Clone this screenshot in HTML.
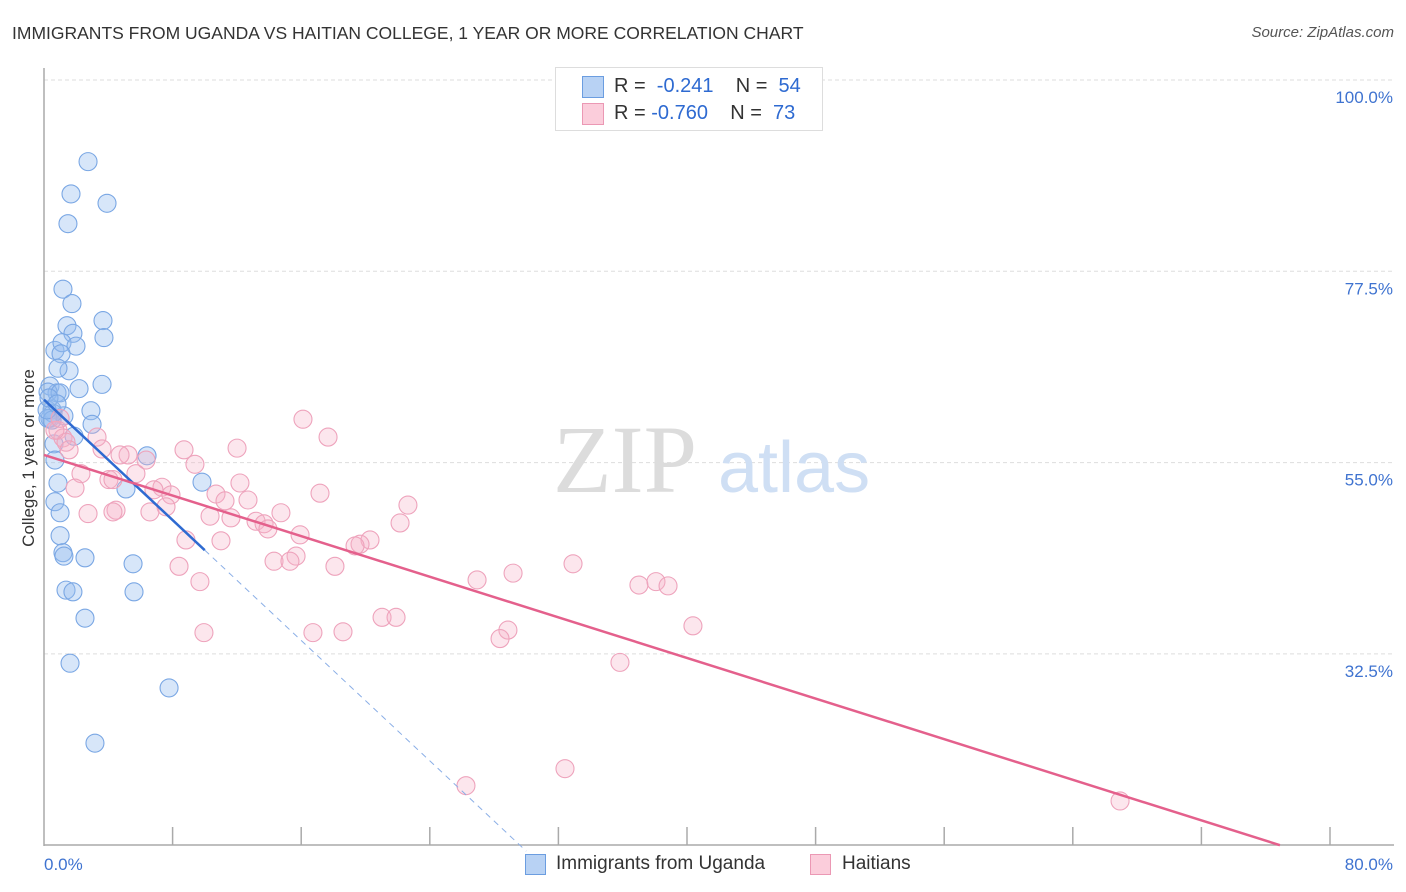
<!DOCTYPE html>
<html><head><meta charset="utf-8">
<style>
body{margin:0;background:#fff;font-family:"Liberation Sans",sans-serif;}
#wrap{position:relative;width:1406px;height:892px;overflow:hidden;}
.t{position:absolute;white-space:nowrap;}
</style></head>
<body>
<div id="wrap">
<div class="t" style="left:12px;top:23px;font-size:17.5px;color:#333;">IMMIGRANTS FROM UGANDA VS HAITIAN COLLEGE, 1 YEAR OR MORE CORRELATION CHART</div>
<div class="t" style="right:12px;top:24px;font-size:15px;color:#555;font-style:italic;">Source: ZipAtlas.com</div>
<svg id="svg" width="1406" height="892" style="position:absolute;left:0;top:0"></svg>
</div>
<script>
const yTicks=[100,77.5,55,32.5];
const xTickLabels=["0.0%","80.0%"];
const ugandaX=[2.74,1.68,3.92,1.49,1.18,1.74,3.67,1.43,1.80,3.73,0.68,1.12,1.99,1.06,1.56,0.87,3.61,2.18,0.37,0.81,0.25,1.0,2.92,0.50,1.24,0.37,0.56,2.99,1.87,0.62,6.41,9.83,5.10,0.87,0.68,1.0,1.0,1.18,1.24,2.55,5.54,1.37,1.80,5.60,2.55,1.62,7.78,3.17,0.25,0.68,0.5,0.19,0.31,0.81];
const ugandaY=[90.4,86.6,85.5,83.1,75.4,73.7,71.7,71.1,70.2,69.7,68.2,69.1,68.7,67.8,65.8,66.1,64.2,63.7,64.0,63.2,63.3,63.2,61.1,61.2,60.5,60.2,60.8,59.5,58.1,57.2,55.8,52.7,51.9,52.6,50.4,49.1,46.4,44.4,44.0,43.8,43.1,40.0,39.8,39.8,36.7,31.4,28.5,22.0,60.2,55.3,60.0,61.2,62.6,61.9];
const haitiX=[16.11,17.67,12.01,8.71,0.87,1.18,1.37,3.30,1.56,3.61,5.23,6.35,9.39,2.30,5.72,4.04,10.70,7.34,12.19,1.93,7.90,6.84,17.17,12.69,11.26,22.64,7.59,4.48,2.74,4.29,6.59,10.33,11.63,14.74,13.19,13.69,13.93,22.15,15.93,8.83,11.01,20.28,19.66,19.35,15.68,14.31,15.30,18.10,8.40,32.91,29.18,26.94,9.70,37.01,38.07,38.82,9.95,16.73,18.60,21.03,21.90,28.86,28.37,40.37,35.83,32.41,26.25,66.94,4.29,4.73,0.68,1.0];
const haitiY=[60.1,58.0,56.7,56.5,58.8,57.9,57.4,58.0,56.5,56.6,55.9,55.3,54.8,53.7,53.7,53.0,51.3,52.1,52.6,52.0,51.2,51.8,51.4,50.6,50.5,50.0,49.8,49.4,49.0,49.2,49.2,48.7,48.5,49.1,48.1,47.8,47.2,47.9,46.5,45.9,45.8,45.9,45.4,45.2,44.0,43.4,43.4,42.8,42.8,43.1,42.0,41.2,41.0,40.6,41.0,40.5,35.0,35.0,35.1,36.8,36.8,35.3,34.3,35.8,31.5,19.0,17.0,15.2,53.0,55.9,58.8,60.2];
const ugandaTrend=[62.4,-1.77];
const haitiTrend=[55.9,-0.597];

const NS="http://www.w3.org/2000/svg";
const svg=document.getElementById('svg');
const X=v=>44+v*16.075, Y=v=>80+(100-v)*8.502;
function mk(tag,attrs,parent){const e=document.createElementNS(NS,tag);for(const k in attrs)e.setAttribute(k,attrs[k]);(parent||svg).appendChild(e);return e;}
yTicks.forEach(t=>{
 const g=mk('line',{x1:44,x2:1394,y1:Y(t),y2:Y(t),stroke:'#ddd','stroke-dasharray':'4,3'});
 
 
 const l=mk('text',{x:1393,y:Y(t)+23,'text-anchor':'end','font-size':17,fill:'#3f73d0','font-family':'Liberation Sans'});
 l.textContent=t.toFixed(1)+'%';
 
 
});
let a=mk('line',{x1:44,x2:44,y1:68,y2:846,stroke:'#aaa','stroke-width':1.5});


a=mk('line',{x1:44,x2:1394,y1:845,y2:845,stroke:'#aaa','stroke-width':1.5});


for(let i=1;i<=10;i++){const tk=mk('line',{x1:X(i*8),x2:X(i*8),y1:827,y2:845,stroke:'#aaa','stroke-width':1.5});
 
 }
let xl=mk('text',{x:44,y:870,'font-size':17,fill:'#3f73d0','font-family':'Liberation Sans'});xl.textContent=xTickLabels[0];


xl=mk('text',{x:1393,y:870,'text-anchor':'end','font-size':17,fill:'#3f73d0','font-family':'Liberation Sans'});xl.textContent=xTickLabels[1];


let yt=mk('text',{x:0,y:0,transform:'translate(34,458) rotate(-90)','text-anchor':'middle','font-size':17,fill:'#333','font-family':'Liberation Sans'});yt.textContent='College, 1 year or more';


let w=mk('text',{x:553,y:492,'font-size':96,fill:'#dcdcdc','font-family':'Liberation Serif'});w.textContent='ZIP';


w=mk('text',{x:718,y:492,'font-size':72,fill:'#cfdff4','font-family':'Liberation Sans'});w.textContent='atlas';


ugandaX.forEach((v,i)=>{const c=mk('circle',{cx:X(v),cy:Y(ugandaY[i]),r:9,fill:'rgba(150,190,240,0.38)',stroke:'#7aa7e4','stroke-width':1.1});
 
 });
haitiX.forEach((v,i)=>{const c=mk('circle',{cx:X(v),cy:Y(haitiY[i]),r:9,fill:'rgba(246,178,200,0.32)',stroke:'#eea3bc','stroke-width':1.1});
 
 });
let tl=mk('line',{x1:X(0),y1:Y(ugandaTrend[0]),x2:X(10),y2:Y(ugandaTrend[0]+ugandaTrend[1]*10),stroke:'#2e6ad1','stroke-width':2.5});


tl=mk('line',{x1:X(10),y1:Y(ugandaTrend[0]+ugandaTrend[1]*10),x2:X(30),y2:Y(ugandaTrend[0]+ugandaTrend[1]*30),stroke:'#8aaee6','stroke-width':1,'stroke-dasharray':'6,5'});


const hx=(10-haitiTrend[0])/haitiTrend[1];
tl=mk('line',{x1:X(0),y1:Y(haitiTrend[0]),x2:X(hx),y2:Y(10),stroke:'#e4608c','stroke-width':2.5});


</script>
<div class="t" style="left:555px;top:67px;width:266px;height:62px;border:1px solid #ddd;background:#fff;font-size:20px;">
 <div class="t" style="left:26px;top:8px;width:20px;height:20px;background:#b8d2f4;border:1px solid #6b9de0;"></div>
 <div class="t" style="left:58px;top:7px;color:#333;">R = &nbsp;<span style="color:#2e6ad1">-0.241</span>&nbsp;&nbsp;&nbsp; N = &nbsp;<span style="color:#2e6ad1">54</span></div>
 <div class="t" style="left:26px;top:35px;width:20px;height:20px;background:#fbcddb;border:1px solid #eb98b4;"></div>
 <div class="t" style="left:58px;top:34px;color:#333;">R = <span style="color:#2e6ad1">-0.760</span>&nbsp;&nbsp;&nbsp; N = &nbsp;<span style="color:#2e6ad1">73</span></div>
</div>
<div class="t" style="left:525px;top:854px;width:19px;height:19px;background:#b8d2f4;border:1px solid #6b9de0;"></div>
<div class="t" style="left:556px;top:853px;font-size:19px;color:#333;">Immigrants from Uganda</div>
<div class="t" style="left:810px;top:854px;width:19px;height:19px;background:#fbcddb;border:1px solid #eb98b4;"></div>
<div class="t" style="left:842px;top:853px;font-size:19px;color:#333;">Haitians</div>
</body></html>
